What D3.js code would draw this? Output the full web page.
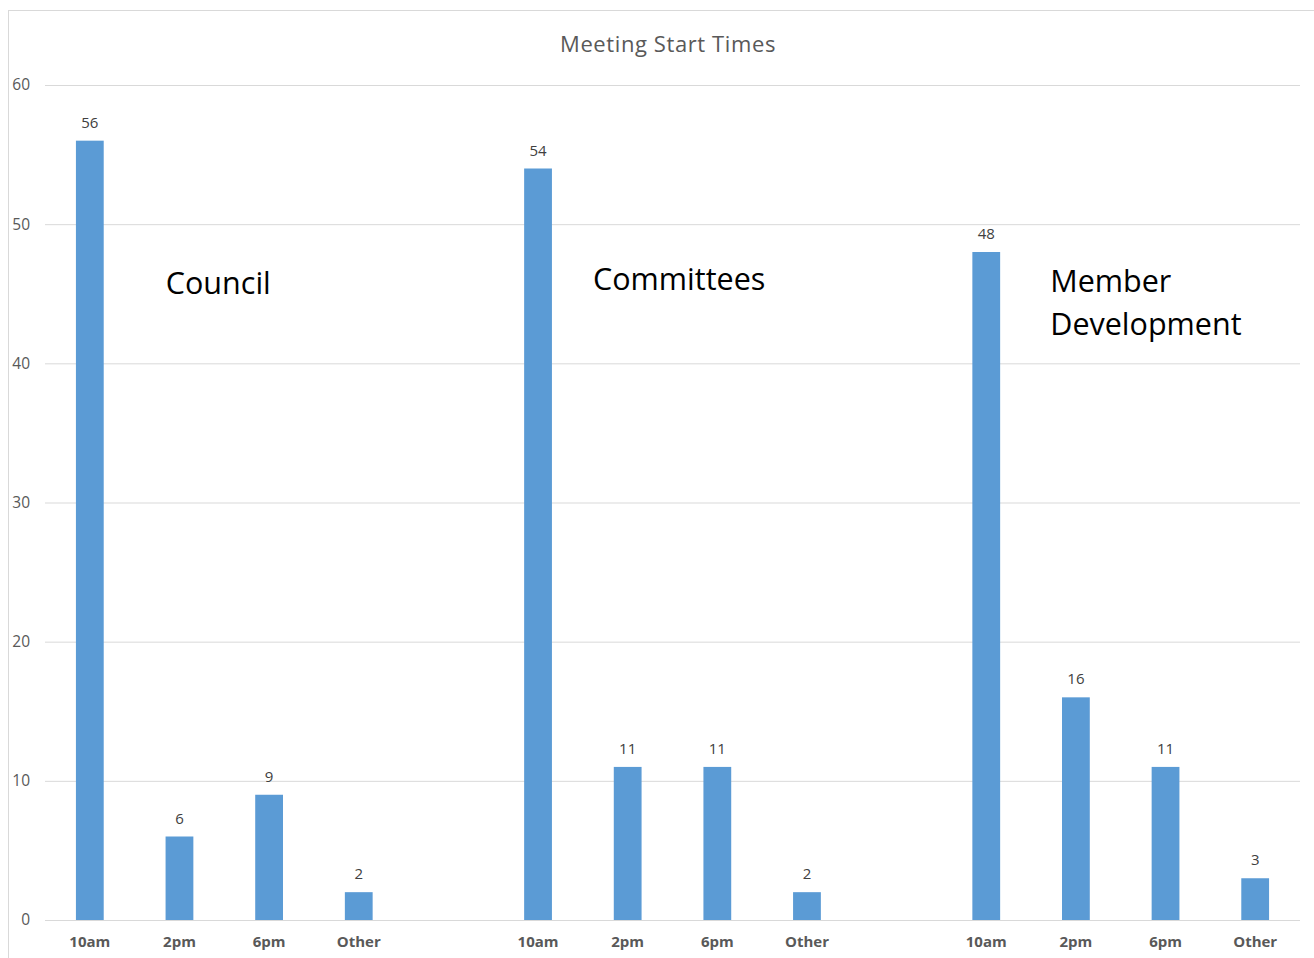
<!DOCTYPE html>
<html>
<head>
<meta charset="utf-8">
<script src="https://cdn.jsdelivr.net/npm/d3@7"></script>
<style>
  body { margin: 0; background: #fff; }
  svg { display: block; font-family: 'Open Sans', sans-serif; }
</style>
</head>
<body>
<svg></svg>
<script>
// data
var groups = ['Council', 'Committees', 'Member Development']
var times = ['10am', '2pm', '6pm', 'Other']
var council = [56, 6, 9, 2]
var committees = [54, 11, 11, 2]
var memberDev = [48, 16, 11, 3]
var yTicks = [0, 10, 20, 30, 40, 50, 60]

var width = 1314
var height = 958
var margin = { top: 85, right: 14, bottom: 38, left: 45 }

var seriesList = [council, committees, memberDev]

// flat list of bars, with an empty slot between groups
var slots = []
var bars = []
groups.forEach(function(g, gi) {
  if (gi > 0) slots.push('gap' + gi)
  times.forEach(function(t, ti) {
    var key = g + '|' + t
    slots.push(key)
    bars.push({ key: key, group: g, time: t, value: seriesList[gi][ti] })
  })
})

var x = d3
  .scaleBand()
  .domain(slots)
  .range([margin.left, width - margin.right])
  .paddingInner(0.69)
  .paddingOuter(0.345)

var y = d3
  .scaleLinear()
  .domain([0, 60])
  .range([height - margin.bottom, margin.top])

var svg = d3.select('svg').attr('width', width).attr('height', height)

// chart border
svg
  .append('rect')
  .attr('x', 8.5)
  .attr('y', 10.5)
  .attr('width', width + 20)
  .attr('height', height + 20)
  .attr('fill', 'none')
  .attr('stroke', '#d9d9d9')

// title
svg
  .append('text')
  .attr('x', 668)
  .attr('y', 52)
  .attr('text-anchor', 'middle')
  .attr('font-size', 22)
  .attr('letter-spacing', 0.6)
  .attr('fill', '#595959')
  .text('Meeting Start Times')

// y axis + gridlines
var yAxis = g =>
  g
    .attr('transform', `translate(${margin.left},0)`)
    .call(
      d3
        .axisLeft(y)
        .tickValues(yTicks)
        .tickSize(0)
        .tickPadding(15)
    )
    .call(g => g.select('.domain').remove())
    .call(g =>
      g
        .selectAll('.tick line')
        .clone()
        .attr('stroke', '#d9d9d9')
        .attr('x2', width - margin.left - margin.right)
    )
    .call(g =>
      g
        .selectAll('.tick text')
        .attr('font-size', 15.5)
        .attr('font-family', "'Open Sans', sans-serif")
        .attr('fill', '#595959')
    )

svg.append('g').call(yAxis)

// x axis labels
var xAxis = g =>
  g
    .attr('transform', `translate(0,${y(0)})`)
    .call(
      d3
        .axisBottom(x)
        .tickValues(bars.map(d => d.key))
        .tickFormat(d => d.split('|')[1])
        .tickSize(0)
        .tickPadding(16)
    )
    .call(g => g.select('.domain').remove())
    .call(g =>
      g
        .selectAll('.tick text')
        .attr('font-size', 15)
        .attr('font-weight', 'bold')
        .attr('font-family', "'Open Sans', sans-serif")
        .attr('fill', '#595959')
    )

svg.append('g').call(xAxis)

// bars
svg
  .append('g')
  .selectAll('rect')
  .data(bars)
  .enter()
  .append('rect')
  .attr('x', d => x(d.key))
  .attr('y', d => y(d.value))
  .attr('width', x.bandwidth())
  .attr('height', d => y(0) - y(d.value))
  .attr('fill', '#5b9bd5')

// value labels
svg
  .append('g')
  .selectAll('text')
  .data(bars)
  .enter()
  .append('text')
  .attr('x', d => x(d.key) + x.bandwidth() / 2)
  .attr('y', d => y(d.value) - 13)
  .attr('text-anchor', 'middle')
  .attr('font-size', 15)
  .attr('fill', '#404040')
  .text(d => d.value)

// group labels placed by hand inside the plot
var groupLabels = [
  { lines: ['Council'], slot: 'Council|10am', dx: 76, y: 45 },
  { lines: ['Committees'], slot: 'Committees|10am', dx: 55, y: 45.3 },
  { lines: ['Member', 'Development'], slot: 'Member Development|10am', dx: 64, y: 45.1 }
]

groupLabels.forEach(function(l) {
  var t = svg
    .append('text')
    .attr('x', x(l.slot) + x.bandwidth() / 2 + l.dx)
    .attr('y', y(l.y))
    .attr('font-size', 30.5)
    .attr('fill', '#000')
  l.lines.forEach(function(s, i) {
    t.append('tspan')
      .attr('x', x(l.slot) + x.bandwidth() / 2 + l.dx)
      .attr('dy', i === 0 ? 0 : 43)
      .text(s)
  })
})
</script>
</body>
</html>
